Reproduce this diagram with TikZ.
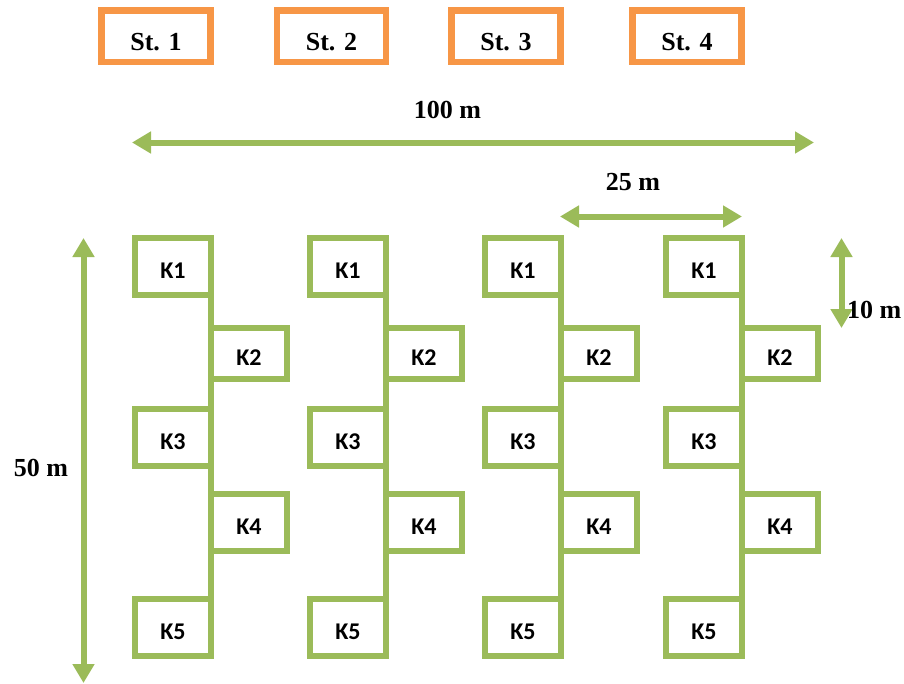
\documentclass[tikz,border=0pt]{standalone}
\usepackage{fontspec}
\setmainfont{Liberation Serif}
\newfontfamily\kfont{Carlito}
\usetikzlibrary{arrows.meta}

\definecolor{plotgreen}{HTML}{9BBB59}
\definecolor{stationorange}{HTML}{F79646}

\tikzset{
  stationbox/.style={draw=stationorange, line width=6.5pt, rectangle,
    minimum width=109pt, minimum height=51.5pt, inner sep=0pt, outer sep=0pt},
  stationtext/.style={font=\bfseries\fontsize{26}{28}\selectfont, anchor=base, inner sep=0pt},
  plotbox/.style={draw=plotgreen, line width=6pt, rectangle,
    minimum width=76pt, inner sep=0pt, outer sep=0pt,
    text height=23pt, text depth=0pt,
    font=\kfont\bfseries\fontsize{24}{26}\selectfont},
  plotline/.style={draw=plotgreen, line width=6pt},
  dimarrow/.style={draw=plotgreen, line width=6pt,
    {Triangle[length=19pt,width=21pt]}-{Triangle[length=19pt,width=21pt]}},
  dimtext/.style={font=\bfseries\fontsize{26}{28}\selectfont, inner sep=0pt}
}

\begin{document}
\begin{tikzpicture}[x=1pt, y=-1pt]
  \useasboundingbox (0,0) rectangle (904,683);

  % stations along the top
  \foreach \i/\cx in {1/156, 2/331.5, 3/506, 4/687} {
    \node[stationbox] (st\i) at (\cx,36.25) {};
    \node[stationtext] (stl\i) at (\cx,50) {St. \i};
  }

  % plot columns: each column has K1..K5 in a zigzag joined by a spine
  \foreach \c/\lx in {1/135, 2/310, 3/485, 4/666} {
    \node[plotbox, minimum height=57pt] (k\c a) at (\lx+38,266.5) {K1};
    \node[plotbox, minimum height=51pt] (k\c b) at (\lx+114,353.5) {K2};
    \node[plotbox, minimum height=57pt] (k\c c) at (\lx+38,437.5) {K3};
    \node[plotbox, minimum height=57pt] (k\c d) at (\lx+114,522.5) {K4};
    \node[plotbox, minimum height=57pt] (k\c e) at (\lx+38,627.5) {K5};
    \draw[plotline] (k\c a.south east) -- (k\c e.north east);
  }

  % dimension arrows
  \coordinate (hl) at (132,142.5);
  \coordinate (hr) at (814,142.5);
  \draw[dimarrow] (hl) -- (hr);
  \node[dimtext, anchor=base] (t100) at (447.5,118) {100 m};

  \coordinate (ql) at (560,216.5);
  \coordinate (qr) at (742,216.5);
  \draw[dimarrow] (ql) -- (qr);
  \node[dimtext, anchor=base] (t25) at (633,190) {25 m};

  \coordinate (vt) at (841.5,238);
  \coordinate (vb) at (841.5,328);
  \draw[dimarrow] (vt) -- (vb);
  \node[dimtext, anchor=base west] (t10) at (847,318) {10 m};

  \coordinate (lt) at (83.5,238);
  \coordinate (lb) at (83.5,683);
  \draw[dimarrow] (lt) -- (lb);
  \node[dimtext, anchor=base] (t50) at (41,476) {50 m};
\end{tikzpicture}
\end{document}
